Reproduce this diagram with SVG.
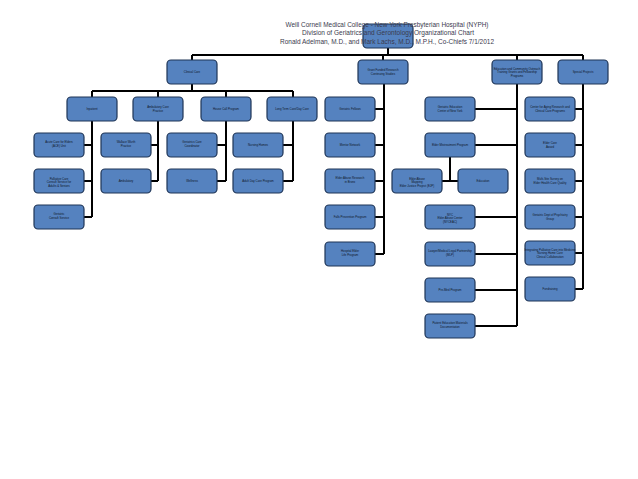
<svg xmlns="http://www.w3.org/2000/svg" width="638" height="479" viewBox="0 0 638 479">
<style>
.bg{fill:#ffffff}
.t{font-family:"Liberation Sans",Arial,sans-serif;fill:#3a3a4e;font-size:7.2px;text-anchor:middle}
.b{fill:#5582bf;stroke:#1f3556;stroke-width:1.2}
.l{font-family:"Liberation Sans",Arial,sans-serif;fill:#101828;font-size:2.9px;text-anchor:middle}
.c{fill:none;stroke:#000000;stroke-width:2}
</style>
<rect class="bg" x="0" y="0" width="638" height="479"/>
<g id="connectors">
<path class="c" d="M388 48V55M192 55H583M192 55V60M383 55V60M517 55V60M583 55V60"/>
<path class="c" d="M192 84V91M92 91H293M92 91V97M158 91V97M226 91V97M293 91V97"/>
<path class="c" d="M92 121V217M83 145H92M83 181H92M83 217H92"/>
<path class="c" d="M158 121V181M150 145H158M150 181H158"/>
<path class="c" d="M226 121V181M217 145H226M217 181H226"/>
<path class="c" d="M293 121V181M283 145H293M283 181H293"/>
<path class="c" d="M384 84V254M375 109H384M375 145H384M375 181H384M375 217H384M375 254H384"/>
<path class="c" d="M517 84V326M475 109H517M475 145H517M475 217H517M475 254H517M475 290H517M475 326H517"/>
<path class="c" d="M450 157V181M441 181H458"/>
<path class="c" d="M583 84V289M575 109H583M575 145H583M575 181H583M575 217H583M575 253H583M575 289H583"/>
</g>
<g id="root"><rect class="b" x="363" y="24" width="50" height="24" rx="4"/></g>
<g id="title">
<text class="t" x="387" y="26.5" textLength="203" lengthAdjust="spacingAndGlyphs">Weill Cornell Medical College - New York Presbyterian Hospital (NYPH)</text>
<text class="t" x="388" y="35" textLength="172" lengthAdjust="spacingAndGlyphs">Division of Geriatrics and Gerontology Organizational Chart</text>
<text class="t" x="387" y="43.5" textLength="214" lengthAdjust="spacingAndGlyphs">Ronald Adelman, M.D., and Mark Lachs, M.D., M.P.H., Co-Chiefs 7/1/2012</text>
</g>
<g id="clinical"><rect class="b" x="167" y="60" width="50" height="24" rx="4"/><text class="l" x="192" y="73.1">Clinical Care</text></g>
<g id="grant"><rect class="b" x="358" y="60" width="50" height="24" rx="4"/><text class="l" x="383" y="71.3">Grant Funded Research</text><text class="l" x="383" y="74.9">Continuing Studies</text></g>
<g id="education"><rect class="b" x="492" y="60" width="50" height="24" rx="4"/><text class="l" x="517" y="69.5">Education and Community Outreach</text><text class="l" x="517" y="73.1">Training Grants and Fellowship</text><text class="l" x="517" y="76.7">Programs</text></g>
<g id="special"><rect class="b" x="558" y="60" width="50" height="24" rx="4"/><text class="l" x="583" y="73.1">Special Projects</text></g>

<g id="inpatient"><rect class="b" x="67" y="97" width="50" height="24" rx="4"/><text class="l" x="92" y="110.1">Inpatient</text></g>
<g id="ambulatory"><rect class="b" x="133" y="97" width="50" height="24" rx="4"/><text class="l" x="158" y="108.3">Ambulatory Care</text><text class="l" x="158" y="111.9">Practice</text></g>
<g id="housecall"><rect class="b" x="201" y="97" width="50" height="24" rx="4"/><text class="l" x="226" y="110.1">House Call Program</text></g>
<g id="longterm"><rect class="b" x="267" y="97" width="50" height="24" rx="4"/><text class="l" x="292" y="110.1">Long Term Care/Day Care</text></g>

<g id="ace"><rect class="b" x="34" y="133" width="50" height="24" rx="4"/><text class="l" x="59" y="143.3">Acute Care for Elders</text><text class="l" x="59" y="146.9">(ACE) Unit</text></g>
<g id="palliative"><rect class="b" x="34" y="169" width="50" height="24" rx="4"/><text class="l" x="59" y="179.5">Palliative Care</text><text class="l" x="59" y="183.1">Consult Service for</text><text class="l" x="59" y="186.7">Adults &amp; Seniors</text></g>
<g id="consult"><rect class="b" x="34" y="205" width="50" height="24" rx="4"/><text class="l" x="59" y="215.3">Geriatric</text><text class="l" x="59" y="218.9">Consult Service</text></g>

<g id="practice"><rect class="b" x="101" y="133" width="50" height="24" rx="4"/><text class="l" x="126" y="143.3">Wallace Wurth</text><text class="l" x="126" y="146.9">Practice</text></g>
<g id="ambul2"><rect class="b" x="101" y="169" width="50" height="24" rx="4"/><text class="l" x="126" y="182.1">Ambulatory</text></g>

<g id="coord"><rect class="b" x="167" y="133" width="50" height="24" rx="4"/><text class="l" x="192" y="143.3">Geriatrics Care</text><text class="l" x="192" y="146.9">Coordinator</text></g>
<g id="wellness"><rect class="b" x="167" y="169" width="50" height="24" rx="4"/><text class="l" x="192" y="182.1">Wellness</text></g>

<g id="nursing"><rect class="b" x="233" y="133" width="50" height="24" rx="4"/><text class="l" x="258" y="146.1">Nursing Homes</text></g>
<g id="daycare"><rect class="b" x="233" y="169" width="50" height="24" rx="4"/><text class="l" x="258" y="182.1">Adult Day Care Program</text></g>

<g id="fellows"><rect class="b" x="325" y="97" width="50" height="24" rx="4"/><text class="l" x="350" y="110.1">Geriatric Fellows</text></g>
<g id="mentor"><rect class="b" x="325" y="133" width="50" height="24" rx="4"/><text class="l" x="350" y="146.1">Mentor Network</text></g>
<g id="abuse"><rect class="b" x="325" y="169" width="50" height="24" rx="4"/><text class="l" x="350" y="179.3">Elder Abuse Research</text><text class="l" x="350" y="182.9">in Bronx</text></g>
<g id="falls"><rect class="b" x="325" y="205" width="50" height="24" rx="4"/><text class="l" x="350" y="218.1">Falls Prevention Program</text></g>
<g id="help"><rect class="b" x="325" y="242" width="50" height="24" rx="4"/><text class="l" x="350" y="252.3">Hospital Elder</text><text class="l" x="350" y="255.9">Life Program</text></g>

<g id="gec"><rect class="b" x="425" y="97" width="50" height="24" rx="4"/><text class="l" x="450" y="108.3">Geriatric Education</text><text class="l" x="450" y="111.9">Center of New York</text></g>
<g id="mistreat"><rect class="b" x="425" y="133" width="50" height="24" rx="4"/><text class="l" x="450" y="146.1">Elder Mistreatment Program</text></g>
<g id="ejp"><rect class="b" x="392" y="169" width="50" height="24" rx="4"/><text class="l" x="417" y="179.5">Elder Abuse</text><text class="l" x="417" y="183.1">Mapping</text><text class="l" x="417" y="186.7">Elder Justice Project (EJP)</text></g>
<g id="edu2"><rect class="b" x="458" y="169" width="50" height="24" rx="4"/><text class="l" x="483" y="182.1">Education</text></g>
<g id="nyceac"><rect class="b" x="425" y="205" width="50" height="24" rx="4"/><text class="l" x="450" y="215.5">NYC</text><text class="l" x="450" y="219.1">Elder Abuse Center</text><text class="l" x="450" y="222.7">(NYCEAC)</text></g>
<g id="mlp"><rect class="b" x="425" y="242" width="50" height="24" rx="4"/><text class="l" x="450" y="252.3">Lawyer/Medical Legal Partnership</text><text class="l" x="450" y="255.9">(MLP)</text></g>
<g id="premed"><rect class="b" x="425" y="278" width="50" height="24" rx="4"/><text class="l" x="450" y="291.1">Pre-Med Program</text></g>
<g id="patient"><rect class="b" x="425" y="314" width="50" height="24" rx="4"/><text class="l" x="450" y="324.3">Patient Education Materials</text><text class="l" x="450" y="327.9">Documentation</text></g>

<g id="sp1"><rect class="b" x="525" y="97" width="50" height="24" rx="4"/><text class="l" x="550" y="108.3">Center for Aging Research and</text><text class="l" x="550" y="111.9">Clinical Care Programs</text></g>
<g id="sp2"><rect class="b" x="525" y="133" width="50" height="24" rx="4"/><text class="l" x="550" y="144.3">Elder Care</text><text class="l" x="550" y="147.9">Award</text></g>
<g id="sp3"><rect class="b" x="525" y="169" width="50" height="24" rx="4"/><text class="l" x="550" y="180.3">Multi-Site Survey on</text><text class="l" x="550" y="183.9">Elder Health Care Quality</text></g>
<g id="sp4"><rect class="b" x="525" y="205" width="50" height="24" rx="4"/><text class="l" x="550" y="216.3">Geriatric Dept of Psychiatry</text><text class="l" x="550" y="219.9">Group</text></g>
<g id="sp5"><rect class="b" x="525" y="241" width="50" height="24" rx="4"/><text class="l" x="550" y="250.5">Integrating Palliative Care into Medicine</text><text class="l" x="550" y="254.1">Nursing Home Care</text><text class="l" x="550" y="257.7">Clinical Collaboration</text></g>
<g id="sp6"><rect class="b" x="525" y="277" width="50" height="24" rx="4"/><text class="l" x="550" y="290.1">Fundraising</text></g>
</svg>
